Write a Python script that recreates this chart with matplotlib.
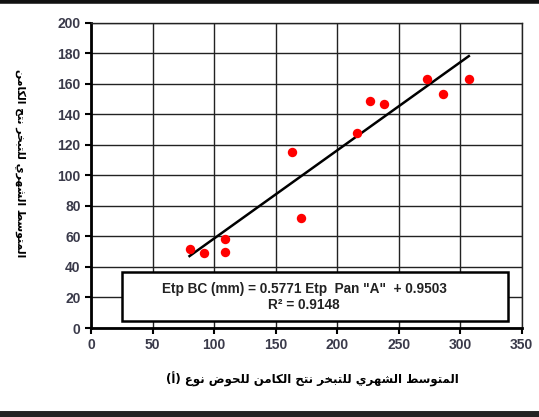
import numpy as np
import matplotlib.pyplot as plt
from matplotlib.patches import Rectangle

# monthly mean values: pan evaporation (x) vs Blaney-Criddle ETp (y)
pan_a = [80, 92, 109, 109, 163, 171, 216, 227, 238, 273, 286, 307]
etp_bc = [52, 49, 58, 50, 115, 72, 128, 149, 147, 163, 153, 163]
slope = 0.5771
intercept = 0.9503
r2 = 0.9148

x_ticks = [0, 50, 100, 150, 200, 250, 300, 350]
y_ticks = [0, 20, 40, 60, 80, 100, 120, 140, 160, 180, 200]

x_label = "المتوسط الشهري للتبخر نتح الكامن للحوض نوع (أ)"
y_label = "المتوسط الشهري للتبخر نتح الكامن"

# arabic contextual forms: isolated, final, initial, medial
FORMS = {
    'ا': ('\uFE8D', '\uFE8E', None, None),
    'أ': ('\uFE83', '\uFE84', None, None),
    'ب': ('\uFE8F', '\uFE90', '\uFE91', '\uFE92'),
    'ت': ('\uFE95', '\uFE96', '\uFE97', '\uFE98'),
    'ح': ('\uFEA1', '\uFEA2', '\uFEA3', '\uFEA4'),
    'خ': ('\uFEA5', '\uFEA6', '\uFEA7', '\uFEA8'),
    'ر': ('\uFEAD', '\uFEAE', None, None),
    'س': ('\uFEB1', '\uFEB2', '\uFEB3', '\uFEB4'),
    'ش': ('\uFEB5', '\uFEB6', '\uFEB7', '\uFEB8'),
    'ض': ('\uFEBD', '\uFEBE', '\uFEBF', '\uFEC0'),
    'ط': ('\uFEC1', '\uFEC2', '\uFEC3', '\uFEC4'),
    'ع': ('\uFEC9', '\uFECA', '\uFECB', '\uFECC'),
    'ك': ('\uFED9', '\uFEDA', '\uFEDB', '\uFEDC'),
    'ل': ('\uFEDD', '\uFEDE', '\uFEDF', '\uFEE0'),
    'م': ('\uFEE1', '\uFEE2', '\uFEE3', '\uFEE4'),
    'ن': ('\uFEE5', '\uFEE6', '\uFEE7', '\uFEE8'),
    'ه': ('\uFEE9', '\uFEEA', '\uFEEB', '\uFEEC'),
    'و': ('\uFEED', '\uFEEE', None, None),
    'ي': ('\uFEF1', '\uFEF2', '\uFEF3', '\uFEF4'),
}
MIRROR = {'(': ')', ')': '('}


def shape_ar(text):
    out = []
    for i, ch in enumerate(text):
        if ch not in FORMS:
            out.append(MIRROR.get(ch, ch))
            continue
        prev = text[i - 1] if i > 0 else ''
        nxt = text[i + 1] if i + 1 < len(text) else ''
        join_prev = prev in FORMS and FORMS[prev][2] is not None
        join_next = nxt in FORMS and FORMS[ch][2] is not None
        iso, fin, ini, med = FORMS[ch]
        if join_prev and join_next:
            out.append(med)
        elif join_prev:
            out.append(fin)
        elif join_next:
            out.append(ini)
        else:
            out.append(iso)
    return ''.join(reversed(out))


plt.rcParams['font.family'] = ['Liberation Sans', 'DejaVu Sans']

fig = plt.figure(figsize=(5.39, 4.17), dpi=100)
ax = fig.add_axes([0.169, 0.2134, 0.799, 0.7322])

ax.set_xlim(0, 350)
ax.set_ylim(0, 200)
ax.set_xticks(x_ticks)
ax.set_yticks(y_ticks)
ax.grid(True, color='#222222', linewidth=1.0)
ax.set_axisbelow(True)
for side in ['top', 'right']:
    ax.spines[side].set_linewidth(1.0)
    ax.spines[side].set_color('#222222')
for side in ['left', 'bottom']:
    ax.spines[side].set_linewidth(2.0)
    ax.spines[side].set_color('black')
ax.tick_params(direction='out', length=4, width=1.5, color='black',
               labelsize=10, labelcolor='#3a3a4a')
for lab in ax.get_xticklabels() + ax.get_yticklabels():
    lab.set_fontweight('bold')

ax.scatter(pan_a, etp_bc, s=46, color='#ff0000', zorder=3, linewidths=0)

# fitted trend line over the data range
fit_x = np.array([min(pan_a), max(pan_a)])
ax.plot(fit_x, slope * fit_x + intercept, color='black', linewidth=1.8, zorder=2)

# equation box
ax.add_patch(Rectangle((25, 4.5), 314, 32, facecolor='white', edgecolor='black',
                       linewidth=1.8, zorder=4))
ax.text(173, 25.5, 'Etp BC (mm) = %.4f Etp  Pan "A"  + %.4f' % (slope, intercept),
        ha='center', va='center', fontsize=9.8, fontweight='bold',
        color='#222222', zorder=5)
ax.text(173, 15.0, 'R² = %.4f' % r2, ha='center', va='center',
        fontsize=9.8, fontweight='bold', color='#222222', zorder=5)

fig.text(0.58, 0.089, shape_ar(x_label), ha='center', va='center',
         fontsize=8.5, fontweight='bold', family='DejaVu Sans')
fig.text(0.037, 0.61, shape_ar(y_label), ha='center', va='center',
         rotation=270, fontsize=7.8, fontweight='bold', family='DejaVu Sans')

# dark rules at top and bottom of the figure
fig.add_artist(plt.Line2D([0, 1], [0.997, 0.997], color='#111111', linewidth=4))
fig.add_artist(plt.Line2D([0, 1], [0.008, 0.008], color='#222222', linewidth=5))

fig.savefig('out.png', dpi=100)
